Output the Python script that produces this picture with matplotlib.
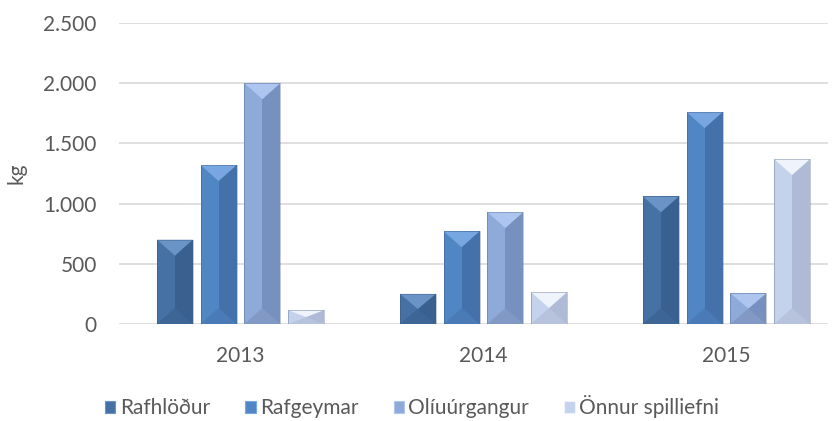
import matplotlib.pyplot as plt
import matplotlib.patches as mpatches
import numpy as np

plt.rcParams['font.family'] = ['Lato', 'DejaVu Sans']

# data
years = ['2013', '2014', '2015']
series = ['Rafhlöður', 'Rafgeymar', 'Olíuúrgangur', 'Önnur spilliefni']
rafhlodur = [700, 250, 1060]
rafgeymar = [1320, 770, 1760]
oliuurgangur = [2000, 930, 255]
onnur = [115, 265, 1370]
values = [rafhlodur, rafgeymar, oliuurgangur, onnur]

# (left face, right face, top bevel, bottom bevel)
colors = [
    ('#4571a4', '#39608f', '#6a93c6', '#3d6595'),
    ('#5186c5', '#4471aa', '#78a6e0', '#4a7bb6'),
    ('#8eaad9', '#7691c0', '#aec6ef', '#8199c4'),
    ('#c4d2ec', '#aebad6', '#eef3fc', '#b7c3dc'),
]

fig = plt.figure(figsize=(8.35, 4.21), dpi=100)
ax = fig.add_axes([119/835, 97/421, 709/835, 301/421])

x = np.arange(len(years))
step = 0.18
width = 0.148

ax.set_xlim(-0.5, -0.5 + 709/243)
ax.set_ylim(0, 2500)

# pixels -> data units for the bevel depth
px_y = 2500 / 301
bevel_px = 16

for i, (vals, c) in enumerate(zip(values, colors)):
    pos = x + (i - 1.5) * step
    ax.bar(pos, vals, width, color=c[0], zorder=2, label=series[i])
    ax.bar(pos + width / 4, vals, width / 2, color=c[1], zorder=2)
    for p, v in zip(pos, vals):
        d = min(bevel_px * px_y, v / 2)
        x0, x1 = p - width / 2, p + width / 2
        ax.add_patch(mpatches.Polygon([(x0, v), (x1, v), (p, v - d)],
                                      closed=True, color=c[2], lw=0, zorder=3))
        ax.add_patch(mpatches.Polygon([(x0, 0), (x1, 0), (p, d)],
                                      closed=True, color=c[3], lw=0, zorder=3))
        ax.add_patch(mpatches.Rectangle((x0, 0), width, v, fill=False,
                                        ec='#2a4466', lw=0.4, alpha=0.5, zorder=4))

ax.set_yticks([0, 500, 1000, 1500, 2000, 2500])
ax.set_yticklabels(['0', '500', '1.000', '1.500', '2.000', '2.500'])
ax.set_xticks(x)
ax.set_xticklabels(years)
ax.tick_params(axis='both', length=0, labelsize=15, colors='#595959')
ax.tick_params(axis='y', pad=16)
ax.tick_params(axis='x', pad=16)
ax.grid(axis='y', color='#d9d9d9', lw=1.2, zorder=0)
for s in ax.spines.values():
    s.set_visible(False)
ax.set_ylabel('kg', fontsize=15, color='#595959', labelpad=12)

handles = [mpatches.Patch(facecolor=c[0], edgecolor=c[2], lw=0.8) for c in colors]
fig.legend(handles, series, loc='center', bbox_to_anchor=(412/835, 1 - 407/421),
           ncol=4, frameon=False, fontsize=15, handlelength=0.5, handleheight=0.5,
           handletextpad=0.2, columnspacing=1.7, labelcolor='#595959')

fig.savefig('out.png', dpi=100)
